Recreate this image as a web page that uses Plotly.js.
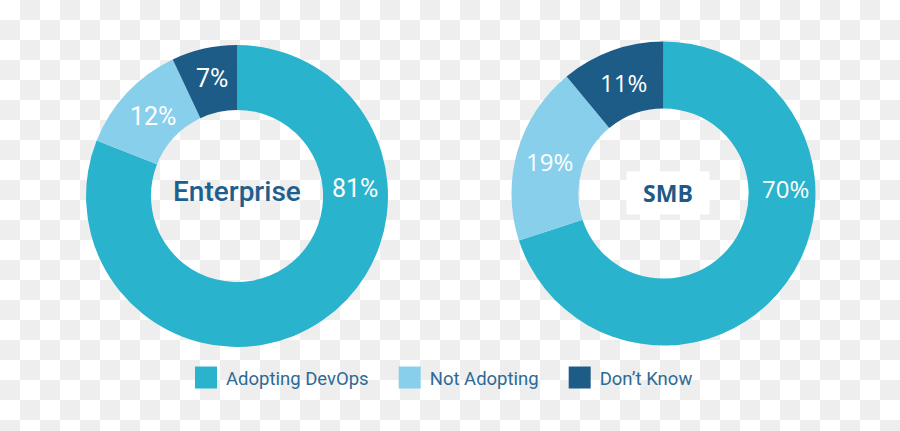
<!DOCTYPE html>
<html>
<head>
<meta charset="utf-8">
<script src="https://cdn.plot.ly/plotly-3.0.1.min.js"></script>
<style>
  html, body { margin: 0; padding: 0; }
  body {
    width: 900px; height: 431px; overflow: hidden;
    background: repeating-conic-gradient(#eeeeee 0% 25%, #ffffff 0% 50%) 0 0 / 40px 40px;
  }
  #chart { width: 900px; height: 431px; }
</style>
</head>
<body>
<div id="chart"></div>
<script>
// ---- data ----
const categories = ["Adopting DevOps", "Not Adopting", "Don\u2019t Know"];
const enterpriseValues = [81, 12, 7];
const smbValues = [70, 19, 11];
const groupNames = ["Enterprise", "SMB"];
const sliceColors = ["#2ab3cd", "#88cfec", "#1e5c88"];

// ---- traces ----
const traces = [
  {
    type: "pie", name: groupNames[0], labels: categories, values: enterpriseValues,
    sort: false, direction: "clockwise", rotation: 0, hole: 0.57,
    marker: { colors: sliceColors, line: { width: 0 } },
    textinfo: "none", hoverinfo: "label+percent",
    domain: { x: [0.0956, 0.4311], y: [0.1949, 0.8956] }
  },
  {
    type: "pie", name: groupNames[1], labels: categories, values: smbValues,
    sort: false, direction: "clockwise", rotation: 0, hole: 0.56,
    marker: { colors: sliceColors, line: { width: 0 } },
    textinfo: "none", hoverinfo: "label+percent",
    domain: { x: [0.5683, 0.9061], y: [0.1984, 0.9037] }
  }
];

// ---- label placement (layout) ----
const entLabelPos = [[0.3944, 0.5631], [0.1704, 0.7292], [0.2352, 0.8183]];
const smbLabelPos = [[0.8733, 0.5631], [0.6104, 0.6248], [0.6926, 0.8081]];

const annotations = [];
enterpriseValues.forEach((v, i) => annotations.push({
  xref: "paper", yref: "paper", x: entLabelPos[i][0], y: entLabelPos[i][1],
  text: v + "%", showarrow: false, xanchor: "center", yanchor: "middle",
  font: { family: "Roboto, sans-serif", size: 25, color: "#ffffff" }
}));
smbValues.forEach((v, i) => annotations.push({
  xref: "paper", yref: "paper", x: smbLabelPos[i][0], y: smbLabelPos[i][1],
  text: v + "%", showarrow: false, xanchor: "center", yanchor: "middle",
  font: { family: "'Open Sans', sans-serif", size: 24, color: "#ffffff" }
}));
annotations.push({
  xref: "paper", yref: "paper", x: 0.2630, y: 0.5552,
  text: groupNames[0], showarrow: false, xanchor: "center", yanchor: "middle",
  font: { family: "Roboto, sans-serif", size: 28, color: "#1f5f8e", weight: 500 }
});
annotations.push({
  xref: "paper", yref: "paper", x: 0.7422, y: 0.5524,
  text: groupNames[1], showarrow: false, xanchor: "center", yanchor: "middle",
  width: 80, height: 40, bgcolor: "#ffffff",
  font: { family: "'Open Sans', sans-serif", size: 23, color: "#1f5a86", weight: 700 }
});

const layout = {
  width: 900, height: 431,
  margin: { l: 0, r: 0, t: 0, b: 0 },
  paper_bgcolor: "rgba(0,0,0,0)",
  plot_bgcolor: "rgba(0,0,0,0)",
  showlegend: true,
  legend: {
    orientation: "h", x: 0.493, xanchor: "center", y: 0.123, yanchor: "middle",
    font: { family: "Roboto, sans-serif", size: 18.5, color: "#2c6a95" },
    bgcolor: "rgba(0,0,0,0)"
  },
  annotations: annotations
};

function parseT(el) {
  const t = el.getAttribute("transform") || "";
  const m = t.match(/translate\(\s*([-\d.e]+)[ ,]+([-\d.e]+)\s*\)/);
  return m ? [parseFloat(m[1]), parseFloat(m[2])] : [0, 0];
}

Plotly.newPlot("chart", traces, layout, { displayModeBar: false, staticPlot: true }).then(() => {
  // no clipping of the legend after re-spacing
  document.querySelectorAll(".legend [clip-path], .legend").forEach(el => el.removeAttribute("clip-path"));
  document.querySelectorAll(".legendpoints path").forEach(p => {
    p.setAttribute("d", "M11,11H-11V-11H11Z");
  });
  // re-space legend entries: text-end to next swatch gap like the reference
  const items = Array.from(document.querySelectorAll(".legend .traces"));
  if (!items.length) return;
  const gap = 21;
  let off = 0;
  const xs = [];
  items.forEach(it => {
    const txt = it.querySelector(".legendtext");
    const w = txt ? txt.getComputedTextLength() : 0;
    xs.push(off);
    off += 40 + w + gap;
  });
  items.forEach((it, i) => {
    const [, y] = parseT(it);
    it.setAttribute("transform", "translate(" + xs[i] + "," + y + ")");
  });
  const first = items[0].querySelector(".legendpoints path").getBoundingClientRect();
  const lastTxt = items[items.length - 1].querySelector(".legendtext").getBoundingClientRect();
  const centre = 0.493 * 900;
  const shift = centre - (first.left + lastTxt.right) / 2;
  items.forEach((it, i) => {
    const [, y] = parseT(it);
    it.setAttribute("transform", "translate(" + (xs[i] + shift) + "," + y + ")");
  });
});
</script>
</body>
</html>
